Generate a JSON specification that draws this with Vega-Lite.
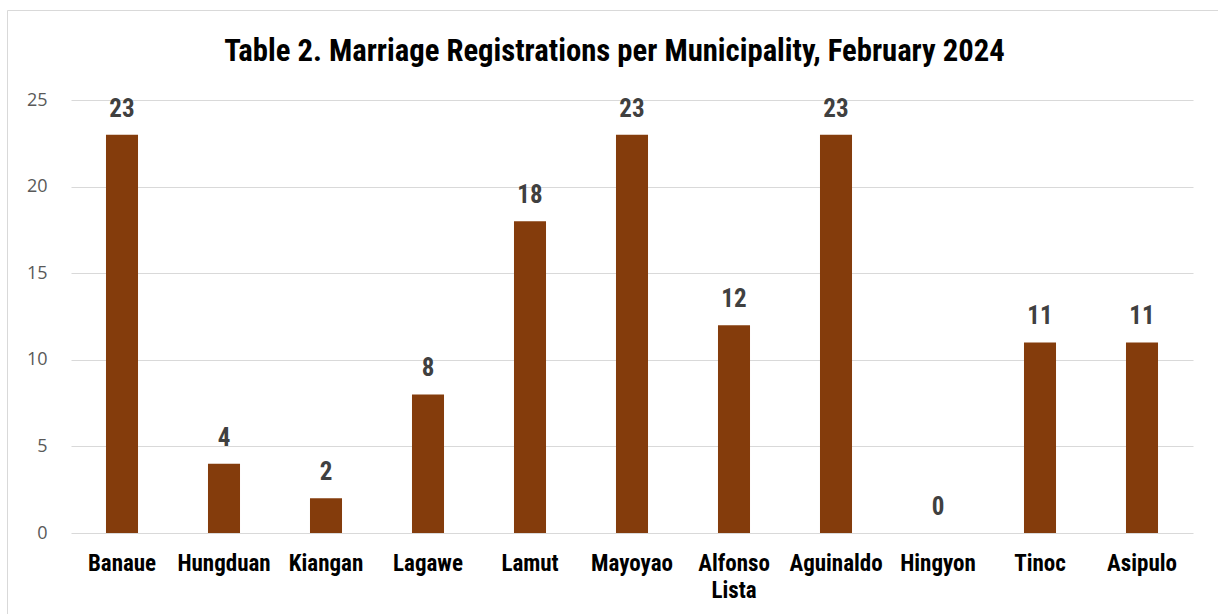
{
  "$schema": "https://vega.github.io/schema/vega-lite/v6.json",
  "width": 1211,
  "height": 604,
  "autosize": {"type": "none"},
  "padding": {"left": 7, "top": 10, "right": 0, "bottom": 0},
  "background": "white",
  "config": {"view": {"stroke": "#d9d9d9", "strokeWidth": 1}},
  "title": {
    "text": "Table 2. Marriage Registrations per Municipality, February 2024",
    "font": "Roboto Condensed, Roboto, sans-serif",
    "fontSize": 30.7,
    "fontWeight": "bold",
    "color": "#000000",
    "baseline": "alphabetic",
    "offset": -82,
    "anchor": "middle",
    "dx": 2
  },
  "data": {
    "values": [
      {"municipality": "Banaue", "registrations": 23},
      {"municipality": "Hungduan", "registrations": 4},
      {"municipality": "Kiangan", "registrations": 2},
      {"municipality": "Lagawe", "registrations": 8},
      {"municipality": "Lamut", "registrations": 18},
      {"municipality": "Mayoyao", "registrations": 23},
      {"municipality": "Alfonso Lista", "registrations": 12},
      {"municipality": "Aguinaldo", "registrations": 23},
      {"municipality": "Hingyon", "registrations": 0},
      {"municipality": "Tinoc", "registrations": 11},
      {"municipality": "Asipulo", "registrations": 11}
    ]
  },
  "encoding": {
    "x": {
      "field": "municipality",
      "type": "nominal",
      "sort": null,
      "scale": {"range": [64, 1186], "paddingInner": 0.686, "paddingOuter": 0.343},
      "axis": {
        "title": null,
        "orient": "bottom",
        "offset": -81,
        "ticks": false,
        "domain": false,
        "grid": false,
        "labelPadding": 19,
        "labelAngle": 0,
        "labelFont": "Roboto Condensed, Roboto, sans-serif",
        "labelFontSize": 23,
        "labelFontWeight": "bold",
        "labelColor": "#000000",
        "labelLineHeight": 27,
        "labelOverlap": false,
        "labelExpr": "datum.value == 'Alfonso Lista' ? ['Alfonso', 'Lista'] : datum.value"
      }
    },
    "y": {
      "field": "registrations",
      "type": "quantitative",
      "scale": {"domain": [0, 25], "range": [523, 90], "nice": false, "zero": true},
      "axis": {
        "title": null,
        "values": [0, 5, 10, 15, 20, 25],
        "offset": -40,
        "ticks": false,
        "tickSize": 0,
        "domain": false,
        "labelPadding": 0,
        "grid": true,
        "gridColor": "#d9d9d9",
        "gridWidth": 1,
        "labelFont": "Open Sans",
        "labelFontSize": 18,
        "labelColor": "#595959"
      }
    }
  },
  "layer": [
    {"mark": {"type": "bar", "color": "#843C0C"}},
    {
      "mark": {
        "type": "text",
        "dy": -18,
        "baseline": "alphabetic",
        "font": "Roboto Condensed, Roboto, sans-serif",
        "fontSize": 25,
        "fontWeight": "bold",
        "color": "#404040"
      },
      "encoding": {"text": {"field": "registrations", "type": "quantitative"}}
    }
  ]
}
